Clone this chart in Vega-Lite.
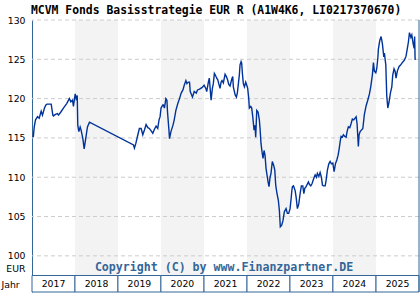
{
"$schema": "https://vega.github.io/schema/vega-lite/v6.json",
"width": 387, "height": 272,
"autosize": "none",
"padding": {"left": 32, "top": 20, "right": 1, "bottom": 8},
"background": "white",
"title": {"text": "MCVM Fonds Basisstrategie EUR R (A1W4K6, LI0217370670)", "anchor": "start", "frame": "group", "font": "DejaVu Sans Mono", "fontSize": 11.4, "fontWeight": "bold", "color": "#000000", "offset": 0, "dx": -1},
"config": {
  "view": {"stroke": null},
  "axisX": {"labels": false, "ticks": false, "domain": false, "grid": false, "titleX": -31, "titleY": -8, "titleAlign": "left", "titleBaseline": "middle", "titleFont": "DejaVu Sans", "titleFontSize": 9.3, "titleFontWeight": "normal", "titleColor": "#000000", "titlePadding": 0},
  "axisY": {"domainColor": "#336699", "domainWidth": 1, "ticks": false, "tickSize": 0, "grid": false, "labelFont": "DejaVu Sans", "labelFontSize": 9.3, "labelColor": "#000000", "labelPadding": 7, "tickCount": 7, "titleAngle": 0, "titleX": -7, "titleY": 248, "titleAlign": "right", "titleBaseline": "middle", "titleFont": "DejaVu Sans", "titleFontSize": 9.3, "titleFontWeight": "normal", "titleColor": "#000000"}
},
"datasets": {
"years": [
{"start": "2017-01-01", "end": "2018-01-01", "label": "2017", "shaded": 0},
{"start": "2018-01-01", "end": "2019-01-01", "label": "2018", "shaded": 1},
{"start": "2019-01-01", "end": "2020-01-01", "label": "2019", "shaded": 0},
{"start": "2020-01-01", "end": "2021-01-01", "label": "2020", "shaded": 1},
{"start": "2021-01-01", "end": "2022-01-01", "label": "2021", "shaded": 0},
{"start": "2022-01-01", "end": "2023-01-01", "label": "2022", "shaded": 1},
{"start": "2023-01-01", "end": "2024-01-01", "label": "2023", "shaded": 0},
{"start": "2024-01-01", "end": "2025-01-01", "label": "2024", "shaded": 1},
{"start": "2025-01-01", "end": "2026-01-01", "label": "2025", "shaded": 0}
],
"grid": [{"v": 100}, {"v": 105}, {"v": 110}, {"v": 115}, {"v": 120}, {"v": 125}, {"v": 130}],
"prices": [
{"date": "2017-01-12", "value": 115.1},
{"date": "2017-01-20", "value": 116.4},
{"date": "2017-01-31", "value": 117.3},
{"date": "2017-02-17", "value": 117.7},
{"date": "2017-03-03", "value": 117.5},
{"date": "2017-03-20", "value": 118.4},
{"date": "2017-03-31", "value": 117.9},
{"date": "2017-04-17", "value": 118.8},
{"date": "2017-04-29", "value": 119.2},
{"date": "2017-05-08", "value": 119.3},
{"date": "2017-06-13", "value": 119.3},
{"date": "2017-06-27", "value": 117.9},
{"date": "2017-07-02", "value": 117.8},
{"date": "2017-07-19", "value": 118.0},
{"date": "2017-08-05", "value": 118.1},
{"date": "2017-08-14", "value": 117.9},
{"date": "2017-09-03", "value": 118.3},
{"date": "2017-09-25", "value": 118.8},
{"date": "2017-10-24", "value": 119.4},
{"date": "2017-11-07", "value": 119.8},
{"date": "2017-11-15", "value": 120.0},
{"date": "2017-11-27", "value": 119.6},
{"date": "2017-12-11", "value": 119.8},
{"date": "2017-12-19", "value": 119.0},
{"date": "2017-12-28", "value": 120.0},
{"date": "2018-01-03", "value": 120.6},
{"date": "2018-01-11", "value": 120.0},
{"date": "2018-01-20", "value": 120.4},
{"date": "2018-01-25", "value": 116.6},
{"date": "2018-02-03", "value": 115.8},
{"date": "2018-02-14", "value": 116.4},
{"date": "2018-02-22", "value": 116.0},
{"date": "2018-03-09", "value": 114.9},
{"date": "2018-03-20", "value": 113.6},
{"date": "2018-03-31", "value": 114.7},
{"date": "2018-04-17", "value": 116.4},
{"date": "2018-05-04", "value": 117.0},
{"date": "2019-05-13", "value": 114.1},
{"date": "2019-05-21", "value": 113.7},
{"date": "2019-06-02", "value": 114.3},
{"date": "2019-06-19", "value": 115.4},
{"date": "2019-07-02", "value": 116.2},
{"date": "2019-07-17", "value": 116.2},
{"date": "2019-07-31", "value": 115.4},
{"date": "2019-08-14", "value": 116.0},
{"date": "2019-08-28", "value": 116.7},
{"date": "2019-09-12", "value": 116.3},
{"date": "2019-09-25", "value": 116.2},
{"date": "2019-10-10", "value": 115.9},
{"date": "2019-10-24", "value": 115.6},
{"date": "2019-11-07", "value": 116.1},
{"date": "2019-11-21", "value": 116.5},
{"date": "2019-12-05", "value": 116.2},
{"date": "2019-12-16", "value": 117.3},
{"date": "2019-12-25", "value": 117.7},
{"date": "2020-01-02", "value": 118.8},
{"date": "2020-01-17", "value": 119.2},
{"date": "2020-01-22", "value": 119.2},
{"date": "2020-01-31", "value": 118.8},
{"date": "2020-02-12", "value": 120.0},
{"date": "2020-02-21", "value": 119.8},
{"date": "2020-02-26", "value": 118.3},
{"date": "2020-03-09", "value": 116.0},
{"date": "2020-03-14", "value": 114.9},
{"date": "2020-03-26", "value": 115.8},
{"date": "2020-04-12", "value": 116.6},
{"date": "2020-04-23", "value": 117.3},
{"date": "2020-05-07", "value": 118.5},
{"date": "2020-05-24", "value": 119.4},
{"date": "2020-06-07", "value": 120.0},
{"date": "2020-06-21", "value": 120.7},
{"date": "2020-07-06", "value": 121.1},
{"date": "2020-07-17", "value": 121.7},
{"date": "2020-07-31", "value": 122.3},
{"date": "2020-08-09", "value": 121.9},
{"date": "2020-08-20", "value": 122.1},
{"date": "2020-08-31", "value": 122.1},
{"date": "2020-09-06", "value": 120.9},
{"date": "2020-09-17", "value": 120.5},
{"date": "2020-09-25", "value": 120.2},
{"date": "2020-10-10", "value": 120.9},
{"date": "2020-10-27", "value": 120.7},
{"date": "2020-11-07", "value": 121.1},
{"date": "2020-11-24", "value": 121.2},
{"date": "2020-12-14", "value": 121.4},
{"date": "2021-01-02", "value": 121.7},
{"date": "2021-01-16", "value": 121.3},
{"date": "2021-01-24", "value": 120.9},
{"date": "2021-02-07", "value": 122.1},
{"date": "2021-02-15", "value": 122.6},
{"date": "2021-03-02", "value": 119.8},
{"date": "2021-03-13", "value": 121.3},
{"date": "2021-03-21", "value": 121.9},
{"date": "2021-03-30", "value": 123.2},
{"date": "2021-04-07", "value": 123.0},
{"date": "2021-04-19", "value": 122.6},
{"date": "2021-04-28", "value": 122.4},
{"date": "2021-05-06", "value": 121.9},
{"date": "2021-05-17", "value": 121.3},
{"date": "2021-05-26", "value": 122.1},
{"date": "2021-06-03", "value": 122.3},
{"date": "2021-06-14", "value": 122.0},
{"date": "2021-06-29", "value": 123.1},
{"date": "2021-07-10", "value": 122.8},
{"date": "2021-07-22", "value": 122.3},
{"date": "2021-07-30", "value": 121.8},
{"date": "2021-08-10", "value": 121.6},
{"date": "2021-08-25", "value": 122.5},
{"date": "2021-09-02", "value": 122.8},
{"date": "2021-09-07", "value": 121.5},
{"date": "2021-09-22", "value": 120.5},
{"date": "2021-10-03", "value": 120.2},
{"date": "2021-10-11", "value": 120.7},
{"date": "2021-10-20", "value": 121.9},
{"date": "2021-10-28", "value": 123.0},
{"date": "2021-11-03", "value": 124.3},
{"date": "2021-11-12", "value": 124.7},
{"date": "2021-11-17", "value": 124.5},
{"date": "2021-11-23", "value": 123.2},
{"date": "2021-12-01", "value": 121.9},
{"date": "2021-12-10", "value": 121.5},
{"date": "2021-12-21", "value": 122.1},
{"date": "2021-12-30", "value": 121.7},
{"date": "2022-01-07", "value": 121.3},
{"date": "2022-01-16", "value": 120.0},
{"date": "2022-01-21", "value": 118.8},
{"date": "2022-02-02", "value": 119.0},
{"date": "2022-02-10", "value": 118.8},
{"date": "2022-02-19", "value": 117.7},
{"date": "2022-03-02", "value": 116.0},
{"date": "2022-03-10", "value": 116.6},
{"date": "2022-03-16", "value": 115.1},
{"date": "2022-03-25", "value": 118.5},
{"date": "2022-04-05", "value": 118.3},
{"date": "2022-04-16", "value": 117.3},
{"date": "2022-04-22", "value": 116.2},
{"date": "2022-04-30", "value": 114.3},
{"date": "2022-05-09", "value": 113.2},
{"date": "2022-05-17", "value": 112.4},
{"date": "2022-05-26", "value": 113.4},
{"date": "2022-06-03", "value": 112.8},
{"date": "2022-06-12", "value": 111.1},
{"date": "2022-06-20", "value": 110.3},
{"date": "2022-06-29", "value": 109.4},
{"date": "2022-07-07", "value": 108.8},
{"date": "2022-07-16", "value": 110.0},
{"date": "2022-07-24", "value": 110.5},
{"date": "2022-08-04", "value": 112.0},
{"date": "2022-08-16", "value": 111.5},
{"date": "2022-08-25", "value": 110.9},
{"date": "2022-09-02", "value": 109.0},
{"date": "2022-09-13", "value": 107.9},
{"date": "2022-09-24", "value": 107.1},
{"date": "2022-10-03", "value": 105.8},
{"date": "2022-10-11", "value": 103.7},
{"date": "2022-10-23", "value": 103.9},
{"date": "2022-11-03", "value": 104.5},
{"date": "2022-11-14", "value": 105.6},
{"date": "2022-11-29", "value": 106.0},
{"date": "2022-12-10", "value": 105.4},
{"date": "2022-12-21", "value": 105.4},
{"date": "2023-01-02", "value": 106.0},
{"date": "2023-01-11", "value": 107.3},
{"date": "2023-01-17", "value": 108.3},
{"date": "2023-01-22", "value": 108.8},
{"date": "2023-01-31", "value": 108.9},
{"date": "2023-02-14", "value": 108.3},
{"date": "2023-02-22", "value": 107.5},
{"date": "2023-03-05", "value": 106.0},
{"date": "2023-03-17", "value": 106.6},
{"date": "2023-03-28", "value": 107.9},
{"date": "2023-04-08", "value": 108.9},
{"date": "2023-04-20", "value": 108.9},
{"date": "2023-04-29", "value": 107.9},
{"date": "2023-05-07", "value": 108.6},
{"date": "2023-05-18", "value": 108.8},
{"date": "2023-06-07", "value": 109.4},
{"date": "2023-06-15", "value": 109.1},
{"date": "2023-06-27", "value": 108.9},
{"date": "2023-07-08", "value": 109.2},
{"date": "2023-07-19", "value": 109.7},
{"date": "2023-08-03", "value": 110.3},
{"date": "2023-08-14", "value": 110.0},
{"date": "2023-08-22", "value": 110.5},
{"date": "2023-09-03", "value": 110.1},
{"date": "2023-09-14", "value": 110.6},
{"date": "2023-09-25", "value": 110.0},
{"date": "2023-10-04", "value": 109.0},
{"date": "2023-10-12", "value": 108.9},
{"date": "2023-10-27", "value": 108.9},
{"date": "2023-11-04", "value": 109.6},
{"date": "2023-11-15", "value": 110.9},
{"date": "2023-11-27", "value": 111.7},
{"date": "2023-12-08", "value": 112.0},
{"date": "2023-12-19", "value": 111.7},
{"date": "2023-12-31", "value": 111.8},
{"date": "2024-01-11", "value": 110.7},
{"date": "2024-01-22", "value": 111.7},
{"date": "2024-02-03", "value": 112.2},
{"date": "2024-02-14", "value": 112.8},
{"date": "2024-02-22", "value": 113.5},
{"date": "2024-03-02", "value": 114.5},
{"date": "2024-03-10", "value": 115.2},
{"date": "2024-03-21", "value": 115.1},
{"date": "2024-03-30", "value": 115.4},
{"date": "2024-04-11", "value": 115.2},
{"date": "2024-04-22", "value": 115.1},
{"date": "2024-04-30", "value": 115.8},
{"date": "2024-05-11", "value": 116.4},
{"date": "2024-05-23", "value": 116.3},
{"date": "2024-06-03", "value": 116.8},
{"date": "2024-06-14", "value": 117.4},
{"date": "2024-06-26", "value": 117.3},
{"date": "2024-07-16", "value": 117.7},
{"date": "2024-07-24", "value": 116.8},
{"date": "2024-08-04", "value": 113.9},
{"date": "2024-08-10", "value": 115.4},
{"date": "2024-08-19", "value": 115.8},
{"date": "2024-09-11", "value": 116.2},
{"date": "2024-09-24", "value": 118.0},
{"date": "2024-10-09", "value": 119.1},
{"date": "2024-10-21", "value": 119.7},
{"date": "2024-11-06", "value": 120.6},
{"date": "2024-11-17", "value": 121.5},
{"date": "2024-12-01", "value": 123.0},
{"date": "2024-12-10", "value": 124.6},
{"date": "2024-12-18", "value": 123.5},
{"date": "2024-12-30", "value": 123.3},
{"date": "2025-01-07", "value": 123.8},
{"date": "2025-01-16", "value": 125.1},
{"date": "2025-01-21", "value": 126.3},
{"date": "2025-02-02", "value": 127.4},
{"date": "2025-02-13", "value": 127.9},
{"date": "2025-02-24", "value": 127.0},
{"date": "2025-03-08", "value": 125.3},
{"date": "2025-03-13", "value": 125.8},
{"date": "2025-03-25", "value": 124.3},
{"date": "2025-04-02", "value": 120.4},
{"date": "2025-04-11", "value": 118.8},
{"date": "2025-04-22", "value": 119.6},
{"date": "2025-05-03", "value": 120.7},
{"date": "2025-05-15", "value": 121.5},
{"date": "2025-05-23", "value": 123.0},
{"date": "2025-06-03", "value": 123.8},
{"date": "2025-06-12", "value": 123.5},
{"date": "2025-06-20", "value": 122.6},
{"date": "2025-07-01", "value": 123.5},
{"date": "2025-07-16", "value": 124.1},
{"date": "2025-07-30", "value": 124.3},
{"date": "2025-08-13", "value": 124.6},
{"date": "2025-08-30", "value": 124.9},
{"date": "2025-09-13", "value": 125.4},
{"date": "2025-09-24", "value": 126.4},
{"date": "2025-10-03", "value": 127.2},
{"date": "2025-10-12", "value": 128.4},
{"date": "2025-10-24", "value": 127.8},
{"date": "2025-11-01", "value": 128.1},
{"date": "2025-11-12", "value": 127.0},
{"date": "2025-11-21", "value": 126.4},
{"date": "2025-11-25", "value": 127.9},
{"date": "2025-11-29", "value": 124.9}
]
},
"layer": [
{"data": {"name": "years"},
 "transform": [{"filter": "datum.shaded == 1"}],
 "mark": {"type": "rect", "fill": "#f3f3f3"},
 "encoding": {
   "x": {"field": "start", "type": "temporal", "title": "Jahr", "scale": {"type": "utc", "domain": [{"year": 2017, "month": 1, "date": 1, "utc": true}, {"year": 2026, "month": 1, "date": 1, "utc": true}]}},
   "x2": {"field": "end"},
   "y": {"datum": 130, "type": "quantitative", "title": "EUR", "scale": {"domain": [95.4, 130], "nice": false, "zero": false}},
   "y2": {"datum": 97.5}
 }},
{"data": {"name": "grid"},
 "mark": {"type": "rule", "stroke": "#cccccc", "strokeDash": [4, 3], "strokeWidth": 1},
 "encoding": {"y": {"field": "v", "type": "quantitative", "title": "EUR"}}},
{"data": {"name": "prices"},
 "mark": {"type": "line", "stroke": "#003399", "strokeWidth": 1.4, "interpolate": "linear"},
 "encoding": {
   "x": {"field": "date", "type": "temporal", "title": "Jahr"},
   "y": {"field": "value", "type": "quantitative", "title": "EUR", "axis": {"values": [100, 105, 110, 115, 120, 125, 130]}}
 }},
{"data": {"values": [{"t": "Copyright (C) by www.Finanzpartner.DE"}]},
 "mark": {"type": "text", "font": "DejaVu Sans Mono", "fontSize": 11.6, "fontWeight": "bold", "fill": "#336699", "align": "center", "baseline": "middle", "dx": -1.5},
 "encoding": {"text": {"field": "t"}, "y": {"datum": 98.45, "type": "quantitative"}}},
{"data": {"name": "years"},
 "mark": {"type": "rect", "fill": "#ffffff", "stroke": "#336699", "strokeWidth": 1},
 "encoding": {
   "x": {"field": "start", "type": "temporal", "title": "Jahr"},
   "x2": {"field": "end"},
   "y": {"datum": 97.5, "type": "quantitative"},
   "y2": {"datum": 95.4}
 }},
{"data": {"name": "years"},
 "mark": {"type": "text", "font": "DejaVu Sans", "fontSize": 9.3, "fill": "#000000", "align": "center", "baseline": "middle", "dx": 21.5},
 "encoding": {
   "x": {"field": "start", "type": "temporal", "title": "Jahr"},
   "y": {"datum": 96.45, "type": "quantitative"},
   "text": {"field": "label"}
 }},
{"data": {"values": [{"x": "2026-01-01"}]},
 "mark": {"type": "rule", "stroke": "#336699", "strokeWidth": 1},
 "encoding": {"x": {"field": "x", "type": "temporal", "title": "Jahr"}}}
]
}
